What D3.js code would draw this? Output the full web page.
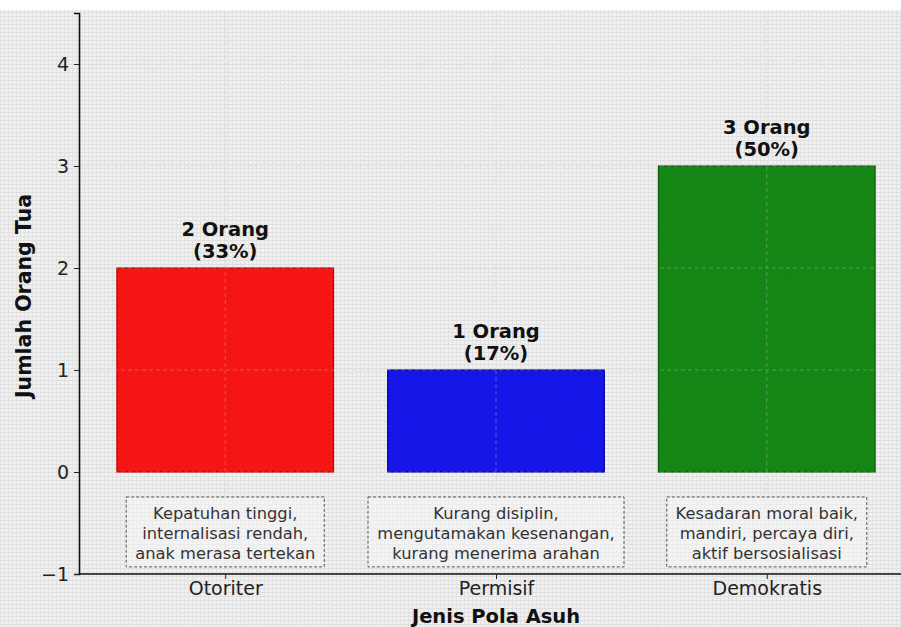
<!DOCTYPE html>
<html><head><meta charset="utf-8">
<script src="https://cdn.jsdelivr.net/npm/d3@7/dist/d3.min.js"></script>
<style>body{margin:0;background:#fff;}svg{display:block;font-family:"DejaVu Sans",sans-serif;}</style>
</head><body>
<svg id="c" width="901" height="627"></svg>
<script>
const categories = ["Otoriter", "Permisif", "Demokratis"];
const values = [2, 1, 3];
const percents = ["33%", "17%", "50%"];
const colors = ["#ff1616", "#1717f2", "#168c16"];
const edgeColors = ["#c00000", "#0000a8", "#0a5e0a"];
const notes = [
  ["Kepatuhan tinggi,", "internalisasi rendah,", "anak merasa tertekan"],
  ["Kurang disiplin,", "mengutamakan kesenangan,", "kurang menerima arahan"],
  ["Kesadaran moral baik,", "mandiri, percaya diri,", "aktif bersosialisasi"]
];
const yTicks = [-1, 0, 1, 2, 3, 4];

const svg = d3.select("#c");
const W = 901, H = 627;
const defs = svg.append("defs");
const pat = defs.append("pattern").attr("id","tex").attr("width",4).attr("height",4).attr("patternUnits","userSpaceOnUse");
pat.append("rect").attr("width",4).attr("height",4).attr("fill","#f8f8f8");
pat.append("rect").attr("width",4).attr("height",1).attr("fill","#e6e6e6");
pat.append("rect").attr("width",1).attr("height",4).attr("fill","#eaeaea");
const filt = defs.append("filter").attr("id","noise");
filt.append("feTurbulence").attr("type","fractalNoise").attr("baseFrequency",0.9).attr("numOctaves",2).attr("result","n");
filt.append("feColorMatrix").attr("type","matrix").attr("values","0 0 0 0 0  0 0 0 0 0  0 0 0 0 0  0 0 0 0.18 0");
filt.append("feComposite").attr("in2","SourceGraphic").attr("operator","in");

svg.append("rect").attr("width",W).attr("height",H).attr("fill","url(#tex)");
svg.append("rect").attr("width",W).attr("height",H).attr("fill","#999").attr("filter","url(#noise)").attr("opacity",0.35);
svg.append("rect").attr("width",W).attr("height",10).attr("fill","#fff");

const x = d3.scaleLinear().domain([-0.54, 2.54]).range([79, 913]);
const y = d3.scaleLinear().domain([-1, 4.5]).range([574, 13]);
const bw = x(0.4) - x(0);

// bars
svg.selectAll(".bar").data(values).join("rect")
  .attr("x",(d,i)=>x(i)-bw).attr("width",bw*2)
  .attr("y",d=>y(d)).attr("height",d=>y(0)-y(d))
  .attr("fill",(d,i)=>colors[i]).attr("stroke",(d,i)=>edgeColors[i]).attr("stroke-width",1.2);
svg.selectAll(".barTex").data(values).join("rect")
  .attr("x",(d,i)=>x(i)-bw).attr("width",bw*2)
  .attr("y",d=>y(d)).attr("height",d=>y(0)-y(d))
  .attr("fill","#000").attr("filter","url(#noise)").attr("opacity",0.45);

// grid
const g = svg.append("g").attr("stroke","#c8c8c8").attr("stroke-dasharray","4,3").attr("stroke-width",0.8).attr("opacity",0.45);
yTicks.forEach(t=>g.append("line").attr("x1",79).attr("x2",W).attr("y1",y(t)).attr("y2",y(t)));
[0,1,2].forEach(i=>g.append("line").attr("x1",x(i)).attr("x2",x(i)).attr("y1",y(4.5)).attr("y2",y(-1)));

// axes
const yAxis = svg.append("g").attr("transform","translate(79,0)")
  .call(d3.axisLeft(y).tickValues(yTicks).tickSize(5).tickPadding(5).tickFormat(d=>d<0?"\u2212"+Math.abs(d):d));
yAxis.select(".domain").attr("stroke","#111").attr("stroke-width",1.6);
yAxis.selectAll("text").attr("font-size",19).attr("fill","#222").attr("font-family","DejaVu Sans");
yAxis.selectAll("line").attr("stroke","#222");

const xAxis = svg.append("g").attr("transform","translate(0,574)")
  .call(d3.axisBottom(x).tickValues([0,1,2]).tickSize(5).tickPadding(3).tickFormat(i=>categories[i]));
xAxis.select(".domain").attr("stroke","#111").attr("stroke-width",1.6).attr("d","M79,0H901");
xAxis.selectAll("text").attr("font-size",19).attr("fill","#222").attr("font-family","DejaVu Sans");
xAxis.selectAll("line").attr("stroke","#222");

// value labels
values.forEach((v,i)=>{
  const t = svg.append("text").attr("text-anchor","middle").attr("font-weight","bold").attr("font-size",19.5).attr("fill","#111");
  t.append("tspan").attr("x",x(i)).attr("y",y(v)-32).text(v+" Orang");
  t.append("tspan").attr("x",x(i)).attr("y",y(v)-10).text("("+percents[i]+")");
});

// note boxes
const boxW = [198, 256, 200];
notes.forEach((lines,i)=>{
  svg.append("rect").attr("x",x(i)-boxW[i]/2).attr("y",y(-0.245)).attr("width",boxW[i]).attr("height",y(-0.93)-y(-0.245))
    .attr("fill","#f8f8f8").attr("fill-opacity",0.5).attr("stroke","#555").attr("stroke-width",1).attr("stroke-dasharray","3,2");
  const t = svg.append("text").attr("text-anchor","middle").attr("font-size",16.3).attr("fill","#333");
  lines.forEach((l,k)=>t.append("tspan").attr("x",x(i)).attr("y",y(-0.245)+22+k*19.8).text(l));
});

// axis titles
svg.append("text").attr("x",496).attr("y",623).attr("text-anchor","middle").attr("font-weight","bold").attr("font-size",19.5).attr("fill","#111").text("Jenis Pola Asuh");
svg.append("text").attr("transform","translate(31,296) rotate(-90)").attr("text-anchor","middle").attr("font-weight","bold").attr("font-size",20.5).attr("fill","#111").text("Jumlah Orang Tua");
</script>
</body></html>
